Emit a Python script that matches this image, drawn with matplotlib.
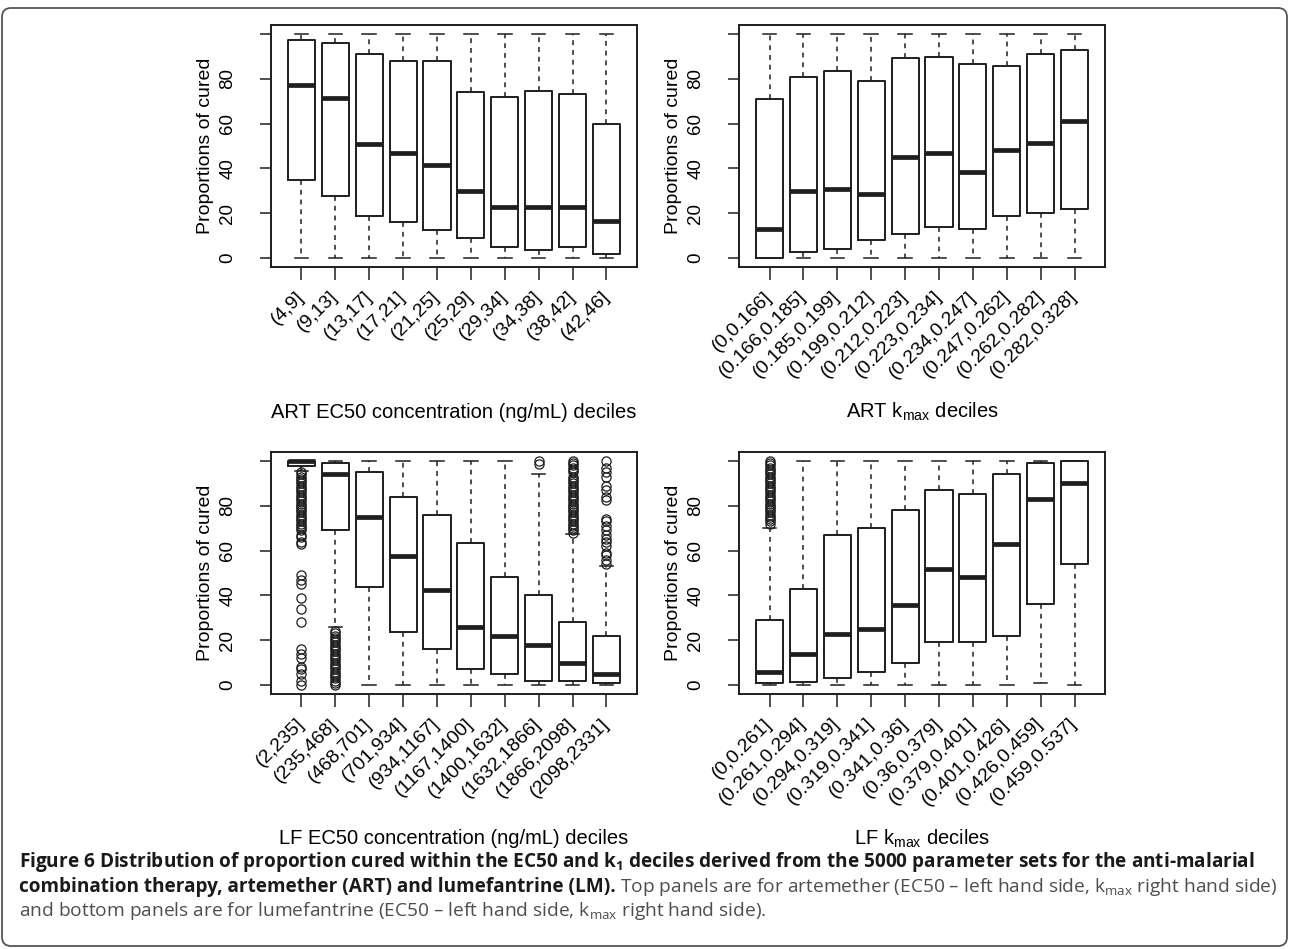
import matplotlib
matplotlib.use("Agg")
import matplotlib.pyplot as plt
from matplotlib.patches import FancyBboxPatch
from matplotlib.transforms import IdentityTransform

plt.rcParams['font.family'] = ['Liberation Sans', 'DejaVu Sans']

# ---- data (proportion cured, %) ----
art_ec50_labels = ["(4,9]", "(9,13]", "(13,17]", "(17,21]", "(21,25]",
                   "(25,29]", "(29,34]", "(34,38]", "(38,42]", "(42,46]"]
art_ec50_med = [77.2, 71.3, 50.7, 46.7, 41.3, 30.1, 23.0, 23.0, 23.0, 16.7]
art_ec50_q1 = [34.8, 27.6, 18.7, 16.3, 12.7, 8.8, 4.8, 3.7, 4.8, 1.6]
art_ec50_q3 = [97.2, 96.1, 91.0, 88.1, 88.1, 73.9, 71.9, 74.5, 73.0, 59.9]
art_ec50_lo = [0, 0, 0, 0, 0, 0, 0, 0, 0, 0]
art_ec50_hi = [100, 100, 100, 100, 100, 100, 100, 100, 100, 100]

art_kmax_labels = ["(0,0.166]", "(0.166,0.185]", "(0.185,0.199]", "(0.199,0.212]",
                   "(0.212,0.223]", "(0.223,0.234]", "(0.234,0.247]", "(0.247,0.262]",
                   "(0.262,0.282]", "(0.282,0.328]"]
art_kmax_med = [13.1, 30.1, 31.0, 28.8, 44.9, 46.7, 38.2, 48.1, 51.2, 61.0]
art_kmax_q1 = [0.0, 2.8, 3.9, 7.9, 10.7, 13.7, 12.8, 18.8, 19.9, 21.8]
art_kmax_q3 = [70.9, 80.9, 83.4, 79.0, 89.4, 89.9, 86.4, 85.8, 90.9, 93.0]
art_kmax_lo = [0, 0, 0, 0, 0, 0, 0, 0, 0, 0]
art_kmax_hi = [100, 100, 100, 100, 100, 100, 100, 100, 100, 100]

lf_ec50_labels = ["(2,235]", "(235,468]", "(468,701]", "(701,934]", "(934,1167]",
                  "(1167,1400]", "(1400,1632]", "(1632,1866]", "(1866,2098]", "(2098,2331]"]
lf_ec50_med = [99.8, 94.0, 75.1, 57.5, 42.5, 26.1, 21.9, 17.9, 10.0, 4.9]
lf_ec50_q1 = [97.6, 69.1, 43.7, 23.6, 16.0, 7.0, 4.9, 1.9, 1.9, 0.7]
lf_ec50_q3 = [100, 99.0, 95.2, 84.0, 76.0, 63.4, 48.1, 40.0, 28.1, 21.8]
lf_ec50_lo = [95.7, 26.1, 0, 0, 0, 0, 0, 0, 0, 0]
lf_ec50_hi = [100, 100, 100, 100, 100, 100, 100, 94.2, 67.2, 53.1]
lf_ec50_fliers = [
    [95, 94, 93, 92, 91, 90, 89, 88, 87, 86, 85, 84, 83, 82, 81, 80, 79, 78, 77,
     76, 75, 74, 73, 72, 71, 70, 69, 67, 66, 64, 63, 49, 47, 45, 39, 34, 28,
     16, 14, 12, 8, 7, 5, 2, 0],
    [24, 23, 22, 21, 20, 19, 18, 17, 16, 15, 14, 13, 12, 11, 10, 9, 8, 7, 6, 5,
     4, 3, 2, 1, 0],
    [], [], [], [], [],
    [100, 98.5],
    [100, 99, 98, 97, 96, 95, 93, 92, 91, 90, 89, 88, 87, 86, 85, 84, 83, 82,
     81, 80, 79, 78, 77, 76, 75, 74, 73, 72, 71, 70, 69, 68],
    [100, 96.7, 95, 93, 89, 87, 84, 82.5, 74, 73, 71, 69, 67, 65, 64, 62, 59,
     58, 56, 54],
]

lf_kmax_labels = ["(0,0.261]", "(0.261,0.294]", "(0.294,0.319]", "(0.319,0.341]",
                  "(0.341,0.36]", "(0.36,0.379]", "(0.379,0.401]", "(0.401,0.426]",
                  "(0.426,0.459]", "(0.459,0.537]"]
lf_kmax_med = [6.0, 13.9, 22.8, 25.1, 35.8, 51.9, 48.4, 63.1, 83.1, 90.0]
lf_kmax_q1 = [0.7, 1.3, 3.0, 6.0, 9.9, 19.0, 19.0, 21.9, 36.1, 53.9]
lf_kmax_q3 = [29.0, 43.0, 67.0, 70.0, 78.1, 87.0, 85.1, 94.2, 99.0, 100]
lf_kmax_lo = [0, 0, 0, 0, 0, 0, 0, 0, 0.9, 0]
lf_kmax_hi = [70.1, 100, 100, 100, 100, 100, 100, 100, 100, 100]
lf_kmax_fliers = [
    [100, 99, 98, 97, 96, 95, 94, 93, 92, 91, 90, 89, 88, 87, 86, 85, 84, 83,
     82, 81, 80, 79, 78, 77, 76, 75, 74, 73, 72],
    [], [], [], [], [], [], [], [], [],
]

W, H = 1290, 949
fig = plt.figure(figsize=(W / 100, H / 100), dpi=100)
INK = '#1e1e1e'


def panel(left_px, top_px, med, q1, q3, lo, hi, labels, xtitle, fliers=None):
    ax = fig.add_axes([left_px / W, (H - top_px - 242) / H, 366 / W, 242 / H])
    stats = []
    for i in range(len(med)):
        stats.append(dict(med=med[i], q1=q1[i], q3=q3[i], whislo=lo[i], whishi=hi[i],
                          fliers=fliers[i] if fliers else []))
    ax.bxp(stats, positions=range(1, len(med) + 1), widths=0.8,
           boxprops=dict(color=INK, linewidth=1.4),
           medianprops=dict(color=INK, linewidth=3.4, solid_capstyle='butt'),
           whiskerprops=dict(color=INK, linewidth=1.1, linestyle=(0, (3.2, 3.2))),
           capprops=dict(color=INK, linewidth=1.1),
           flierprops=dict(marker='o', markerfacecolor='none', markeredgecolor=INK,
                           markersize=6.6, markeredgewidth=0.9))
    ax.set_xlim(0.1, 10.9)
    ax.set_ylim(-4, 104)
    ax.set_yticks([0, 20, 40, 60, 80, 100])
    ax.set_yticklabels(['0', '20', '40', '60', '80', ''], rotation=90,
                       va='center', ha='right', fontsize=13.5)
    ax.set_xticks(range(1, len(labels) + 1))
    ax.set_xticklabels(labels, rotation=45, ha='right', va='center',
                       rotation_mode='anchor', fontsize=14)
    ax.tick_params(axis='y', length=8, width=1.1, pad=17, color=INK)
    ax.tick_params(axis='x', length=9.5, width=1.1, pad=10, color=INK)
    for s in ax.spines.values():
        s.set_linewidth(1.4)
        s.set_color(INK)
    ax.set_ylabel('Proportions of cured', fontsize=14, va='center',
                  rotation_mode='anchor')
    ax.yaxis.set_label_coords(-65 / 366, 0.5)
    fig.text((left_px + 183) / W, (H - top_px - 242 - 145) / H, xtitle,
             ha='center', va='center', fontsize=14.5)
    return ax


panel(271, 25, art_ec50_med, art_ec50_q1, art_ec50_q3, art_ec50_lo, art_ec50_hi,
      art_ec50_labels, 'ART EC50 concentration (ng/mL) deciles')
panel(739, 25, art_kmax_med, art_kmax_q1, art_kmax_q3, art_kmax_lo, art_kmax_hi,
      art_kmax_labels, r'ART $\mathregular{k_{max}}$ deciles')
panel(271, 452, lf_ec50_med, lf_ec50_q1, lf_ec50_q3, lf_ec50_lo, lf_ec50_hi,
      lf_ec50_labels, 'LF EC50 concentration (ng/mL) deciles', lf_ec50_fliers)
panel(739, 452, lf_kmax_med, lf_kmax_q1, lf_kmax_q3, lf_kmax_lo, lf_kmax_hi,
      lf_kmax_labels, r'LF $\mathregular{k_{max}}$ deciles', lf_kmax_fliers)

# caption
bold = dict(family=['Open Sans', 'DejaVu Sans'], fontsize=13.7, va='center',
            fontweight='bold', color='#1a1a1a')
reg = dict(family=['Open Sans', 'DejaVu Sans'], fontsize=13.8, va='center',
           color='#4d4d4d')
x0 = 19 / W
fig.text(x0, (H - 862) / H,
         r'Figure 6 Distribution of proportion cured within the EC50 and $\mathregular{k_1}$ '
         'deciles derived from the 5000 parameter sets for the anti-malarial', **bold)
t1 = fig.text(x0, (H - 887) / H,
              'combination therapy, artemether (ART) and lumefantrine (LM).', **bold)
r = fig.canvas.get_renderer()
x1 = t1.get_window_extent(r).x1 + 4
fig.text(x1 / W, (H - 887) / H,
         r'Top panels are for artemether (EC50 – left hand side, $\mathregular{k_{max}}$ '
         'right hand side)', **reg)
fig.text(x0, (H - 911) / H,
         r'and bottom panels are for lumefantrine (EC50 – left hand side, '
         r'$\mathregular{k_{max}}$ right hand side).', **reg)

# rounded frame
fig.add_artist(FancyBboxPatch((2, 3), 1285, 938, boxstyle='round,pad=0,rounding_size=9',
                              transform=IdentityTransform(), fill=False,
                              edgecolor='#555555', linewidth=1.3))

fig.savefig('out.png', dpi=100)
